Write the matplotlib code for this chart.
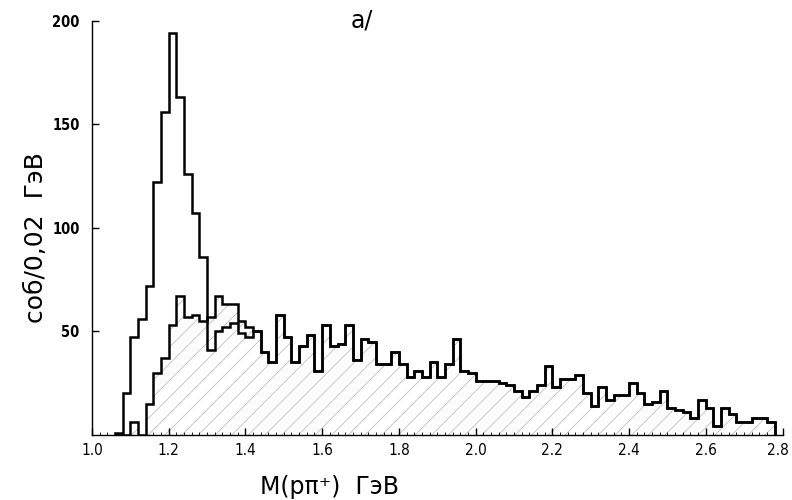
import numpy as np
import matplotlib
matplotlib.use("Agg")
import matplotlib.pyplot as plt
import matplotlib.transforms as mtransforms

plt.rcParams['font.family'] = ['DejaVu Sans']
plt.rcParams['hatch.linewidth'] = 0.5

# ---- data (events per 0.02 GeV bin) ----
bin_lo = 1.06
bin_w = 0.02
# full distribution (with the Delta peak), bins 1.06 ... 2.76
counts_all = [1, 20, 47, 56, 72, 122, 156, 194, 163, 126, 107, 86, 41, 50, 52, 54, 49, 47, 50,
              40, 35, 58, 47, 35, 43, 48, 31, 53, 43, 44, 53, 36, 46, 45, 34, 34, 40, 34, 28,
              31, 28, 35, 28, 34, 46, 31, 30, 26, 26, 26, 25, 24, 21, 18, 21, 24, 33, 23, 27,
              27, 29, 20, 14, 23, 17, 19, 19, 25, 20, 15, 16, 21, 13, 12, 11, 8, 17, 13, 4,
              13, 10, 6, 6, 8, 8, 6]
# hatched distribution, bins 1.06 ... 1.42 (identical to the full one above 1.44)
counts_hatched_low = [0, 0, 6, 0, 15, 30, 37, 53, 67, 57, 58, 55, 57, 67, 63, 63, 55, 52, 50]

xticks = [1.0, 1.2, 1.4, 1.6, 1.8, 2.0, 2.2, 2.4, 2.6, 2.8]
xticklabels = ["1.0", "1.2", "1.4", "1.6", "1.8", "2.0", "2.2", "2.4", "2.6", "2.8"]
yticks = [50, 100, 150, 200]
yticklabels = ["50", "100", "150", "200"]

n = len(counts_all)
edges = np.round(bin_lo + bin_w * np.arange(n + 1), 2)
counts_hatched = counts_hatched_low + counts_all[len(counts_hatched_low):]

fig = plt.figure(figsize=(7.92, 5.0), dpi=100)
ax = fig.add_axes([92 / 792, 65.3 / 500, 690.5 / 792, 414 / 500])

ax.stairs(counts_hatched, edges, fill=True, facecolor='none', edgecolor='#b4b4b4',
          hatch='//', linewidth=0)
ax.stairs(counts_hatched, edges, color='black', linewidth=1.8)
ax.stairs(counts_all, edges, color='black', linewidth=1.8)

ax.set_xlim(1.0, 2.8)
ax.set_ylim(0, 200)
for s in ['top', 'right']:
    ax.spines[s].set_visible(False)
for s in ['left', 'bottom']:
    ax.spines[s].set_linewidth(1.0)

ax.set_xticks(xticks)
ax.set_xticklabels(xticklabels, fontstretch='condensed')
ax.set_xticks(np.round(np.arange(1.0, 2.8001, 0.02), 2), minor=True)
ax.set_yticks(yticks)
ax.set_yticklabels(yticklabels, fontstretch='condensed', fontweight='bold')
ax.tick_params(axis='x', which='major', direction='in', length=5, width=1.0,
               labelsize=11, pad=6)
ax.tick_params(axis='x', which='minor', direction='in', length=2, width=0.6)
ax.tick_params(axis='y', which='major', direction='in', length=5, width=1.0,
               labelsize=10.5, pad=9)

# keep the last x label inside the picture
last = ax.get_xticklabels()[-1]
last.set_transform(last.get_transform() +
                   mtransforms.ScaledTranslation(-5 / 100, 0, fig.dpi_scale_trans))

fig.text(330 / 792, 1 - 487 / 500, "M(pπ\u207a)  ГэВ", ha='center', va='center',
         fontsize=17)
fig.text(36 / 792, 1 - 238 / 500, "соб/0,02  ГэВ", ha='center', va='center',
         rotation=90, fontsize=18)
fig.text(362 / 792, 1 - 20 / 500, "а/", ha='center', va='center', fontsize=17)

fig.savefig("out.png", dpi=100)
